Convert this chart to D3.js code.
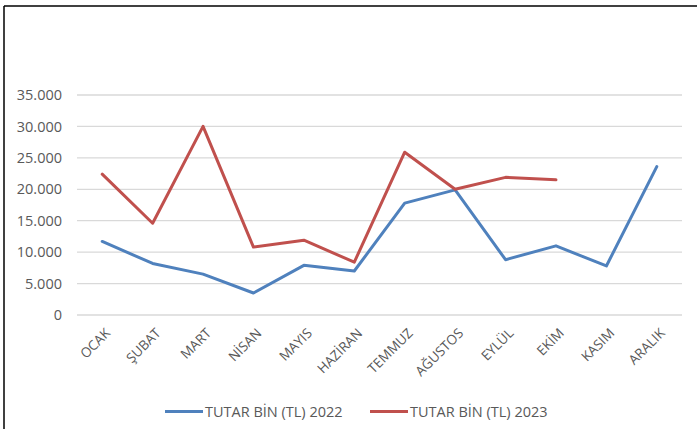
<!DOCTYPE html>
<html><head><meta charset="utf-8">
<script src="https://cdn.jsdelivr.net/npm/d3@7/dist/d3.min.js"></script>
<style>body{margin:0;background:#fff}svg{display:block}</style>
</head><body>
<svg id="c" width="697" height="429"></svg>
<script>
const months = ["OCAK","ŞUBAT","MART","NİSAN","MAYIS","HAZİRAN","TEMMUZ","AĞUSTOS","EYLÜL","EKİM","KASIM","ARALIK"];
const values2022 = [11700,8200,6500,3500,7900,7000,17800,19900,8800,11000,7800,23600];
const values2023 = [22400,14600,30000,10800,11900,8400,25900,20000,21900,21500,null,null];
const yTicks = [0,5000,10000,15000,20000,25000,30000,35000];
const seriesNames = ["TUTAR BİN (TL) 2022","TUTAR BİN (TL) 2023"];
const colors = ["#4F81BD","#C0504D"];

const svg = d3.select("#c");
const font = "'Open Sans', sans-serif";
const textColor = "#595959";

// outer frame (top & left)
svg.append("line").attr("x1",4).attr("x2",697).attr("y1",6).attr("y2",6).attr("stroke","#000").attr("stroke-width",1.5);
svg.append("line").attr("x1",4).attr("x2",4).attr("y1",6).attr("y2",429).attr("stroke","#000").attr("stroke-width",1.5);

const x = d3.scaleBand().domain(months).range([77,682]);
const y = d3.scaleLinear().domain([0,35000]).range([315,95]);

// gridlines
svg.append("g").selectAll("line").data(yTicks).join("line")
  .attr("x1",77).attr("x2",682)
  .attr("y1",d=>y(d)).attr("y2",d=>y(d))
  .attr("stroke","#d9d9d9").attr("stroke-width",1.3);

// y axis labels
const yAxis = d3.axisLeft(y).tickValues(yTicks)
  .tickFormat(d=>d3.format(",")(d).replace(/,/g,".")).tickSize(0).tickPadding(15);
const gy = svg.append("g").attr("transform","translate(77,0)").call(yAxis);
gy.select(".domain").remove();
gy.selectAll("text").attr("font-family",font).attr("font-size",14.5).attr("fill",textColor);

// x axis labels
const xAxis = d3.axisBottom(x).tickSize(0).tickPadding(0);
const gx = svg.append("g").attr("transform","translate(0,315)").call(xAxis);
gx.select(".domain").remove();
gx.selectAll("text")
  .attr("font-family",font).attr("font-size",13.5).attr("fill",textColor)
  .attr("text-anchor","end").attr("dy",null).attr("y",0)
  .attr("transform","translate(9,19) rotate(-45)");

// lines
const line = d3.line().defined(d=>d!=null)
  .x((d,i)=>x(months[i])+x.bandwidth()/2).y(d=>y(d));
[values2022, values2023].forEach((vals,k)=>{
  svg.append("path").datum(vals).attr("d",line)
    .attr("fill","none").attr("stroke",colors[k]).attr("stroke-width",3)
    .attr("stroke-linejoin","round").attr("stroke-linecap","round");
});

// legend
const legX = [165,370];
seriesNames.forEach((n,k)=>{
  svg.append("line").attr("x1",legX[k]).attr("x2",legX[k]+38).attr("y1",411.5).attr("y2",411.5)
    .attr("stroke",colors[k]).attr("stroke-width",3);
  svg.append("text").attr("x",legX[k]+40).attr("y",416.8).text(n)
    .attr("font-family",font).attr("font-size",14.5).attr("fill",textColor);
});
</script>
</body></html>
